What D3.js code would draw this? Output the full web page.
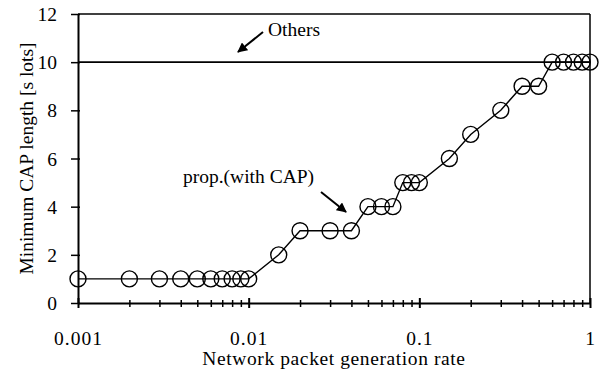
<!DOCTYPE html>
<html>
<head>
<meta charset="utf-8">
<script src="https://cdn.jsdelivr.net/npm/d3@7"></script>
<style>
  html, body { margin: 0; padding: 0; background: #fff; }
  svg { display: block; }
  text { font-family: "Liberation Serif", "Times New Roman", serif; fill: #000; }
</style>
</head>
<body>
<svg id="chart" width="602" height="371"></svg>
<script>
// Packet generation rate (log scale) and the minimum CAP length found for each
const rates = [0.001, 0.002, 0.003, 0.004, 0.005, 0.006, 0.007, 0.008, 0.009, 0.01,
               0.015, 0.02, 0.03, 0.04, 0.05, 0.06, 0.07, 0.08, 0.09, 0.1,
               0.15, 0.2, 0.3, 0.4, 0.5, 0.6, 0.7, 0.8, 0.9, 1];
const capLength = [1, 1, 1, 1, 1, 1, 1, 1, 1, 1,
                   2, 3, 3, 3, 4, 4, 4, 5, 5, 5,
                   6, 7, 8, 9, 9, 10, 10, 10, 10, 10];
// Constant CAP length used by the other schemes
const othersLength = 10;

const yTicks = [0, 2, 4, 6, 8, 10, 12];
const xMajorTicks = [0.001, 0.01, 0.1, 1];
const xTickLabels = ["0.001", "0.01", "0.1", "1"];
const xMinorTicks = [];
[0.001, 0.01, 0.1].forEach(d => { for (let k = 2; k <= 9; k++) xMinorTicks.push(+(d * k).toPrecision(3)); });

const svg = d3.select("#chart");
const plotLeft = 78, plotRight = 590, plotTop = 14, plotBottom = 303;

const x = d3.scaleLog().domain([0.001, 1]).range([plotLeft, plotRight]);
const y = d3.scaleLinear().domain([0, 12]).range([plotBottom, plotTop]);

const FONT = "19.5px";

// Frame: top and right borders
svg.append("line").attr("x1", plotLeft).attr("x2", plotRight).attr("y1", plotTop).attr("y2", plotTop)
  .attr("stroke", "#000").attr("stroke-width", 1.5);
svg.append("line").attr("x1", plotRight).attr("x2", plotRight).attr("y1", plotTop).attr("y2", plotBottom)
  .attr("stroke", "#000").attr("stroke-width", 1.5);

// Y axis
const yAxis = svg.append("g").attr("transform", `translate(${plotLeft},0)`)
  .call(d3.axisLeft(y).tickValues(yTicks).tickSize(7).tickPadding(14).tickSizeOuter(0));
yAxis.select(".domain").attr("stroke-width", 2);
yAxis.selectAll(".tick line").attr("x1", 2).attr("x2", -7).attr("stroke-width", 1.5);
yAxis.selectAll(".tick text").style("font-size", FONT).style("font-family", "Liberation Serif")
  .attr("dy", "0.34em");

// X axis
const xAll = xMajorTicks.concat(xMinorTicks).sort((a, b) => a - b);
const xAxis = svg.append("g").attr("transform", `translate(0,${plotBottom})`)
  .call(d3.axisBottom(x).tickValues(xAll).tickSizeOuter(0)
    .tickFormat(d => { const i = xMajorTicks.indexOf(d); return i >= 0 ? xTickLabels[i] : ""; }));
xAxis.select(".domain").attr("stroke-width", 2);
xAxis.selectAll(".tick line")
  .attr("y1", d => xMajorTicks.includes(d) ? -5 : -3)
  .attr("y2", d => xMajorTicks.includes(d) ? 5 : 4)
  .attr("stroke-width", d => xMajorTicks.includes(d) ? 2 : 1.5);
xAxis.selectAll(".tick text").style("font-size", FONT).style("font-family", "Liberation Serif")
  .attr("y", 42).attr("dy", 0).attr("letter-spacing", "1px");

// Others: constant line
svg.append("line")
  .attr("x1", x(0.001)).attr("x2", x(1))
  .attr("y1", y(othersLength)).attr("y2", y(othersLength))
  .attr("stroke", "#000").attr("stroke-width", 1.6);

// Proposed scheme: line with open circle markers
const pts = rates.map((r, i) => [r, capLength[i]]);
svg.append("path")
  .attr("d", d3.line().x(d => x(d[0])).y(d => y(d[1]))(pts))
  .attr("fill", "none").attr("stroke", "#000").attr("stroke-width", 1.4);
svg.append("g").selectAll("circle").data(pts).join("circle")
  .attr("cx", d => x(d[0])).attr("cy", d => y(d[1])).attr("r", 8)
  .attr("fill", "none").attr("stroke", "#000").attr("stroke-width", 1.4);

// Arrowhead marker
svg.append("defs").append("marker")
  .attr("id", "arrow").attr("viewBox", "0 0 10 10").attr("refX", 9).attr("refY", 5)
  .attr("markerWidth", 10).attr("markerHeight", 10).attr("markerUnits", "userSpaceOnUse")
  .attr("orient", "auto")
  .append("path").attr("d", "M0,0 L10,5 L0,10 Z").attr("fill", "#000");

// Annotations
svg.append("text").attr("x", 268).attr("y", 36).style("font-size", FONT).text("Others");
svg.append("line").attr("x1", 263).attr("y1", 32).attr("x2", 238).attr("y2", 52)
  .attr("stroke", "#000").attr("stroke-width", 2).attr("marker-end", "url(#arrow)");

svg.append("text").attr("x", 183).attr("y", 183).style("font-size", FONT).text("prop.(with CAP)");
svg.append("line").attr("x1", 321).attr("y1", 192).attr("x2", 346).attr("y2", 212)
  .attr("stroke", "#000").attr("stroke-width", 2).attr("marker-end", "url(#arrow)");

// Axis titles
svg.append("text").attr("x", (plotLeft + plotRight) / 2).attr("y", 365)
  .attr("text-anchor", "middle").style("font-size", FONT).attr("letter-spacing", "0.6px")
  .text("Network packet generation rate");
svg.append("text").attr("transform", `translate(33,${(plotTop + plotBottom) / 2}) rotate(-90)`)
  .attr("text-anchor", "middle").style("font-size", FONT)
  .text("Minimum CAP length [s lots]");
</script>
</body>
</html>
